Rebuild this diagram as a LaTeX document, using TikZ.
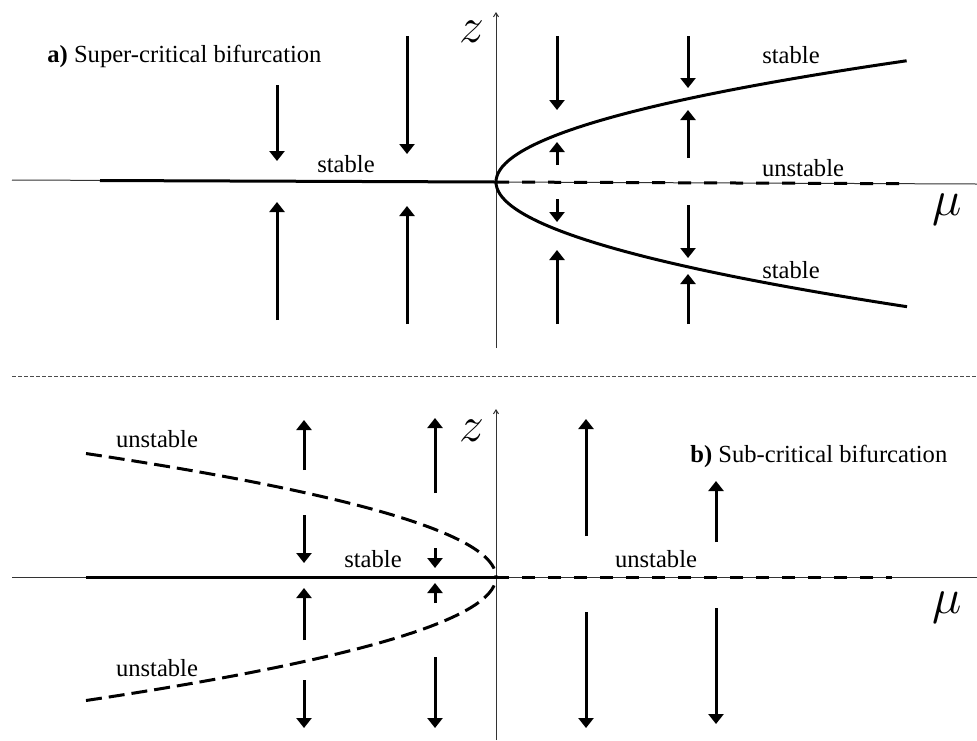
\documentclass[tikz,border=0pt]{standalone}
\usepackage{fontspec}
\setmainfont{Liberation Serif}
\usetikzlibrary{arrows.meta}
\begin{document}
\begin{tikzpicture}[x=0.5pt,y=-0.5pt,
  axis/.style={line width=0.5pt,black!80},
  branch/.style={line width=1.5pt},
  ubranch/.style={line width=1.5pt,dash pattern=on 6.5pt off 6.5pt},
  ucurve/.style={line width=1.5pt,dash pattern=on 8pt off 3.5pt},
  flow/.style={line width=1.5pt,-{Triangle[width=7.5pt,length=5pt]}},
  lbl/.style={font=\fontsize{12.3}{14}\selectfont,inner sep=0pt,anchor=base},
  sym/.style={font=\fontsize{23}{25}\selectfont,inner sep=0pt}]
\useasboundingbox (0,0) rectangle (977,740);
% ---------- top panel ----------
\draw[axis,-{Straight Barb[length=2pt,width=2.5pt]}] (496,348) -- (496,12);
\draw[axis] (12,180) -- (977,184);
\draw[branch] (100,180.5) -- (496,182);
\draw[ubranch] (496,182) -- (907,183.7);
\draw[branch] plot[domain=-1:1,samples=81,smooth,variable=\t]
  ({496+411*\t*\t},{182+(411*\t*\t)*4/965-123*\t});
% arrows
\draw[flow] (277,85) -- (277,161);
\draw[flow] (277,320) -- (277,202);
\draw[flow] (407,36) -- (407,154);
\draw[flow] (407,324) -- (407,206);
\draw[flow] (557,36) -- (557,110);
\draw[flow] (557,165) -- (557,142);
\draw[flow] (557,199) -- (557,222);
\draw[flow] (557,324) -- (557,250);
\draw[flow] (688,36) -- (688,88);
\draw[flow] (688,158) -- (688,110);
\draw[flow] (688,205) -- (688,258);
\draw[flow] (688,324) -- (688,274);
% labels
\node[lbl,anchor=base west] (ta) at (47,62) {\textbf{a)} Super-critical bifurcation};
\node[lbl] (ts1) at (346,172) {stable};
\node[lbl] (ts2) at (791,63) {stable};
\node[lbl] (tu) at (803,176) {unstable};
\node[lbl] (ts3) at (791,278) {stable};
\node[sym] (tz) at (472,32) {$z$};
\node[sym] (tmu) at (947,210) {$\mu$};
% ---------- divider ----------
\draw[line width=0.5pt,black!70,dash pattern=on 2pt off 1pt] (12,376) -- (977,376);
% ---------- bottom panel ----------
\draw[axis,-{Straight Barb[length=2pt,width=2.5pt]}] (496,740) -- (496,409);
\draw[axis] (12,577) -- (977,577);
\draw[branch] (86,577) -- (496,577);
\draw[ubranch] (496,577) -- (892,577);
\draw[ucurve] plot[domain=1:0,samples=41,smooth,variable=\t]
  ({496-410*\t*\t},{577-123.5*\t});
\draw[ucurve] plot[domain=-1:0,samples=41,smooth,variable=\t]
  ({496-410*\t*\t},{577-123.5*\t});
% arrows
\draw[flow] (304,470) -- (304,420);
\draw[flow] (304,515) -- (304,563);
\draw[flow] (304,640) -- (304,588);
\draw[flow] (304,680) -- (304,728);
\draw[flow] (435,493) -- (435,418);
\draw[flow] (435,548) -- (435,568);
\draw[flow] (435,603) -- (435,583);
\draw[flow] (435,657) -- (435,728);
\draw[flow] (586,536) -- (586,419);
\draw[flow] (586,612) -- (586,728);
\draw[flow] (716,542) -- (716,481);
\draw[flow] (716,608) -- (716,724);
% labels
\node[lbl] (bu1) at (157,447) {unstable};
\node[lbl] (bs) at (373,567) {stable};
\node[lbl] (bu2) at (656,567) {unstable};
\node[lbl,anchor=base west] (bb) at (690,462) {\textbf{b)} Sub-critical bifurcation};
\node[lbl] (bu3) at (157,676) {unstable};
\node[sym] (bz) at (472,431) {$z$};
\node[sym] (bmu) at (947,608) {$\mu$};
\end{tikzpicture}
\end{document}
